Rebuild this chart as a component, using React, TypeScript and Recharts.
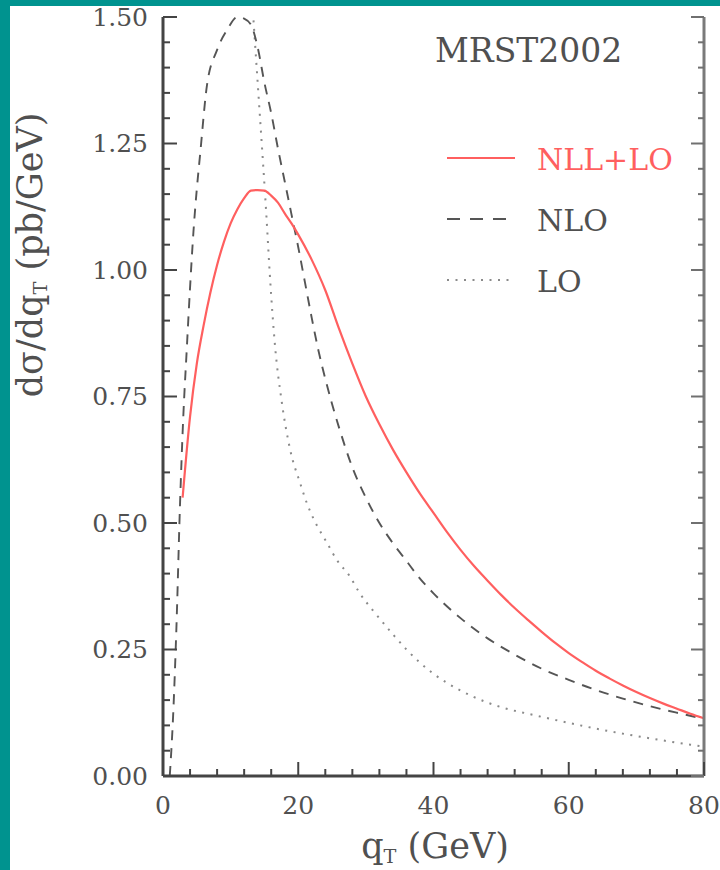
import React from 'react';
import { LineChart, Line, XAxis, YAxis, Legend } from 'recharts';

// ---------- data ----------
const nllLoQ = [2.9, 4, 5, 6, 7, 8, 9, 10, 11, 12, 13, 14, 15, 16, 17, 18, 19, 20, 22, 24, 26, 28, 30, 32, 34, 36, 38, 40, 42, 44, 46, 48, 50, 52, 54, 56, 58, 60, 62, 64, 66, 68, 70, 72, 74, 76, 78, 80];
const nllLoV = [0.55, 0.71, 0.815, 0.89, 0.955, 1.01, 1.055, 1.092, 1.12, 1.142, 1.157, 1.158, 1.157, 1.147, 1.133, 1.112, 1.092, 1.07, 1.02, 0.96, 0.885, 0.815, 0.75, 0.695, 0.645, 0.6, 0.558, 0.52, 0.482, 0.447, 0.415, 0.386, 0.358, 0.332, 0.308, 0.285, 0.263, 0.243, 0.225, 0.208, 0.193, 0.179, 0.166, 0.154, 0.143, 0.133, 0.123, 0.114];

const nloQ = [1, 1.5, 2, 2.5, 3, 3.5, 4, 4.5, 5, 5.5, 6.5, 8, 9.5, 11, 12, 13, 14, 15, 16, 17, 18, 19, 20, 21, 22, 23, 24, 25, 26, 28, 30, 32, 34, 36, 38, 40, 44, 48, 52, 56, 60, 64, 68, 72, 76, 80];
const nloV = [0.0, 0.12, 0.3, 0.53, 0.71, 0.84, 0.965, 1.075, 1.16, 1.23, 1.365, 1.435, 1.475, 1.5, 1.497, 1.485, 1.44, 1.37, 1.31, 1.24, 1.175, 1.11, 1.045, 0.975, 0.905, 0.84, 0.785, 0.735, 0.69, 0.61, 0.55, 0.5, 0.46, 0.425, 0.39, 0.361, 0.312, 0.272, 0.24, 0.212, 0.19, 0.17, 0.153, 0.138, 0.125, 0.113];

const loQ = [13.3, 13.85, 14.35, 14.8, 15.3, 15.8, 16.6, 17.5, 18.8, 20.3, 21.25, 22.2, 24.2, 25.7, 27.65, 29.1, 31, 34, 36, 38, 40, 42, 44, 46, 48, 50, 55, 60, 65, 70, 75, 80];
const loV = [1.51, 1.4, 1.3, 1.21, 1.105, 0.99, 0.845, 0.745, 0.645, 0.578, 0.54, 0.51, 0.462, 0.427, 0.394, 0.361, 0.328, 0.28, 0.25, 0.224, 0.202, 0.184, 0.169, 0.156, 0.145, 0.136, 0.12, 0.105, 0.091, 0.079, 0.068, 0.058];

const xTicks = [0, 4, 8, 12, 16, 20, 24, 28, 32, 36, 40, 44, 48, 52, 56, 60, 64, 68, 72, 76, 80];
const xMajor = [0, 20, 40, 60, 80];
const yTicks = [0, 0.05, 0.1, 0.15, 0.2, 0.25, 0.3, 0.35, 0.4, 0.45, 0.5, 0.55, 0.6, 0.65, 0.7, 0.75, 0.8, 0.85, 0.9, 0.95, 1.0, 1.05, 1.1, 1.15, 1.2, 1.25, 1.3, 1.35, 1.4, 1.45, 1.5];
const yMajor = [0, 0.25, 0.5, 0.75, 1.0, 1.25, 1.5];

const seriesNames = ['NLL+LO', 'NLO', 'LO'];
const annotation = 'MRST2002';

const nllLo = nllLoQ.map((q, i) => ({ q, v: nllLoV[i] }));
const nlo = nloQ.map((q, i) => ({ q, v: nloV[i] }));
const lo = loQ.map((q, i) => ({ q, v: loV[i] }));

// ---------- styling ----------
const FONT = '"DejaVu Serif", "Liberation Serif", serif';
const W = 720;
const H = 870;
const PLOT = { left: 163, right: 704, top: 17, bottom: 776 };
const RED = '#ff5f5f';
const DASH = '#555555';
const DOT = '#8a8a8a';
const TEXT = '#505050';
const TEAL = '#00938f';

const isIn = (arr: number[], v: number) => arr.some((a) => Math.abs(a - v) < 1e-6);

const renderLeftTick = (props: any) => {
  const { y, payload } = props;
  const v = Number(payload.value);
  const major = isIn(yMajor, v);
  return (
    <g>
      <path d={`M${PLOT.left},${y}H${PLOT.left + (major ? 14 : 7)}`} stroke="#444" strokeWidth={2} fill="none" />
      {major ? (
        <text x={148} y={y} textAnchor="end" dominantBaseline="central" fontFamily={FONT} fontSize={25} fill={TEXT}>
          {v.toFixed(2)}
        </text>
      ) : null}
    </g>
  );
};

const renderRightTick = (props: any) => {
  const { y, payload } = props;
  const v = Number(payload.value);
  const major = isIn(yMajor, v);
  return (
    <g>
      <path d={`M${PLOT.right},${y}H${PLOT.right - (major ? 13 : 6)}`} stroke="#707070" strokeWidth={2} fill="none" />
    </g>
  );
};

const renderBottomTick = (props: any) => {
  const { x, payload } = props;
  const v = Number(payload.value);
  const major = isIn(xMajor, v);
  return (
    <g>
      <path d={`M${x},${PLOT.bottom}V${PLOT.bottom - (major ? 14 : 7)}`} stroke="#444" strokeWidth={2} fill="none" />
      {major ? (
        <text x={x} y={805} textAnchor="middle" dominantBaseline="central" fontFamily={FONT} fontSize={25} fill={TEXT}>
          {String(v)}
        </text>
      ) : null}
    </g>
  );
};

const LegendBox = () => {
  const ox = 430;
  const oy = 20;
  const rows = [
    { name: seriesNames[0], color: RED, dash: undefined as string | undefined, width: 2.2, text: RED, y: 158 },
    { name: seriesNames[1], color: DASH, dash: '13 10', width: 2, text: TEXT, y: 219 },
    { name: seriesNames[2], color: DOT, dash: '2 6.5', width: 2, text: TEXT, y: 280 },
  ];
  return (
    <svg width={265} height={290} style={{ display: 'block' }}>
      <text x={435 - ox} y={50 - oy} dominantBaseline="central" fontFamily={FONT} fontSize={33} fill={TEXT}>
        {annotation}
      </text>
      {rows.map((r) => (
        <g key={r.name}>
          <line x1={447 - ox} x2={515 - ox} y1={r.y - oy} y2={r.y - oy} stroke={r.color} strokeWidth={r.width} strokeDasharray={r.dash} />
          <text x={537 - ox} y={r.y + 1 - oy} dominantBaseline="central" fontFamily={FONT} fontSize={30} fill={r.text}>
            {r.name}
          </text>
        </g>
      ))}
    </svg>
  );
};

export default function App() {
  return (
    <div style={{ position: 'absolute', left: 0, top: 0, width: W, height: H, background: '#fff', overflow: 'hidden' }}>
      <div style={{ position: 'absolute', left: 0, top: 0, width: 10, height: H, background: TEAL }} />
      <div style={{ position: 'absolute', left: 0, top: 0, width: W, height: 6, background: TEAL }} />
      <LineChart width={W} height={H} margin={{ top: PLOT.top, right: 0, bottom: 0, left: 0 }}>
        <XAxis
          dataKey="q"
          type="number"
          domain={[0, 80]}
          allowDataOverflow
          ticks={xTicks}
          interval={0}
          height={H - PLOT.bottom}
          tickLine={false}
          axisLine={{ stroke: '#444', strokeWidth: 3 }}
          tick={renderBottomTick}
        />
        <XAxis
          xAxisId="top"
          orientation="top"
          dataKey="q"
          type="number"
          domain={[0, 80]}
          height={0}
          tick={false}
          tickLine={false}
          axisLine={{ stroke: '#7a7a7a', strokeWidth: 3 }}
        />
        <YAxis
          type="number"
          domain={[0, 1.5]}
          allowDataOverflow
          ticks={yTicks}
          interval={0}
          width={PLOT.left}
          tickLine={false}
          axisLine={{ stroke: '#444', strokeWidth: 3 }}
          tick={renderLeftTick}
        />
        <YAxis
          yAxisId="r"
          orientation="right"
          type="number"
          domain={[0, 1.5]}
          allowDataOverflow
          ticks={yTicks}
          interval={0}
          width={W - PLOT.right}
          tickLine={false}
          axisLine={{ stroke: '#7a7a7a', strokeWidth: 3 }}
          tick={renderRightTick}
        />
        <Legend
          layout="vertical"
          align="center"
          verticalAlign="middle"
          content={<LegendBox />}
          wrapperStyle={{ position: 'absolute', left: 430, top: 20, width: 265, height: 290 }}
        />
        <Line data={lo} dataKey="v" name={seriesNames[2]} type="monotone" stroke={DOT} strokeWidth={2} strokeDasharray="2 6.5" dot={false} activeDot={false} isAnimationActive={false} />
        <Line yAxisId="r" data={nlo} dataKey="v" name={seriesNames[1]} type="monotone" stroke={DASH} strokeWidth={1.9} strokeDasharray="10 8" dot={false} activeDot={false} isAnimationActive={false} />
        <Line data={nllLo} dataKey="v" name={seriesNames[0]} type="monotone" stroke={RED} strokeWidth={2.2} dot={false} activeDot={false} isAnimationActive={false} />
      </LineChart>
      <div
        style={{
          position: 'absolute',
          left: 32,
          top: 255,
          transform: 'translate(-50%, -50%) rotate(-90deg)',
          whiteSpace: 'nowrap',
          fontFamily: FONT,
          fontSize: 35,
          color: TEXT,
          lineHeight: 1,
        }}
      >
        dσ/dq<span style={{ fontSize: '0.55em', verticalAlign: '-0.25em' }}>T</span> (pb/GeV)
      </div>
      <div
        style={{
          position: 'absolute',
          left: 435,
          top: 848,
          transform: 'translate(-50%, -50%)',
          whiteSpace: 'nowrap',
          fontFamily: FONT,
          fontSize: 35,
          color: TEXT,
          lineHeight: 1,
        }}
      >
        q<span style={{ fontSize: '0.55em', verticalAlign: '-0.25em' }}>T</span> (GeV)
      </div>
    </div>
  );
}
